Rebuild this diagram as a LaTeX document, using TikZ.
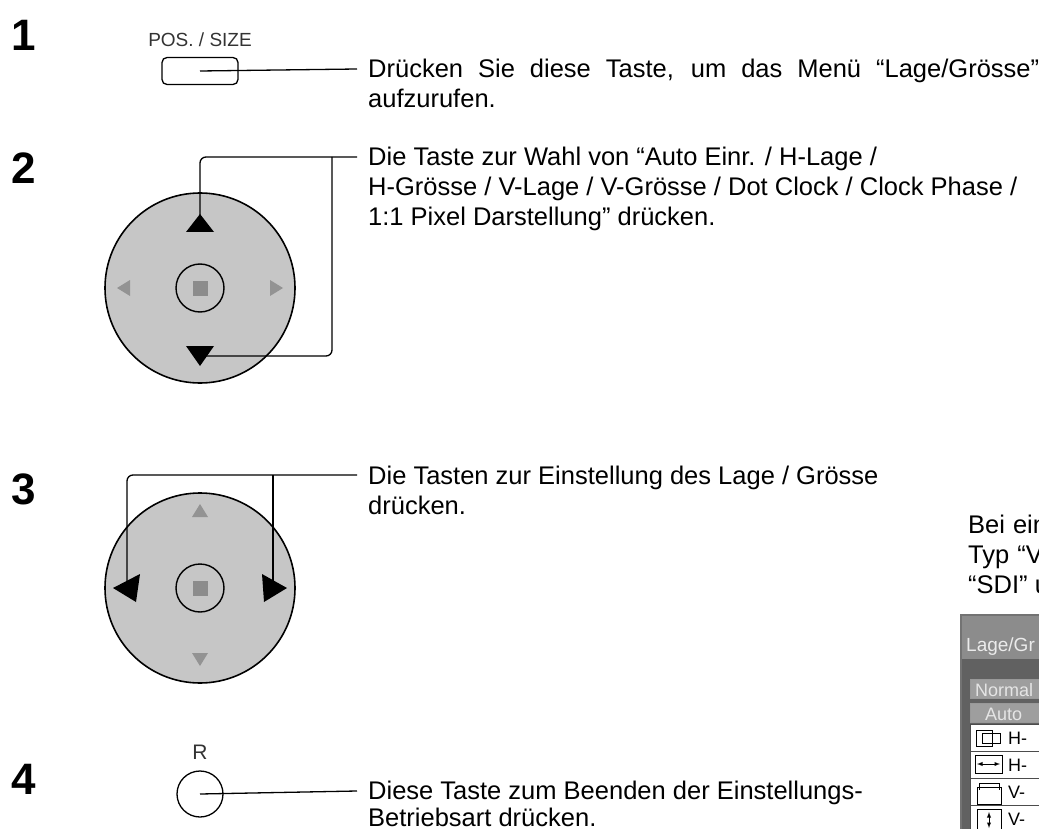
\documentclass[tikz,border=0pt]{standalone}
\usepackage{fontspec}
\setmainfont{Liberation Sans}
\begin{document}
\begin{tikzpicture}[x=1pt,y=-1pt,
  txt/.style={anchor=base west,inner sep=0pt,font=\fontsize{25.5}{30}\selectfont},
  num/.style={anchor=center,inner sep=0pt,font=\fontsize{44}{48}\selectfont\bfseries},
  pad/.style={draw=black,line width=1.6pt,fill=padgray},
  lead/.style={line width=1.3pt,rounded corners=6pt},
  on/.style={fill=black},
  off/.style={fill=gray!85},
  menurow/.style={draw=black!70,fill=white,line width=0.8pt}]
\definecolor{padgray}{RGB}{198,198,198}
\useasboundingbox (0,0) rectangle (1039,829);
\fill[white] (0,0) rectangle (1039,829);
% numbers
\node[num] (n1) at (24,35) {1};
\node[num] (n2) at (24,168) {2};
\node[num] (n3) at (24,489) {3};
\node[num] (n4) at (24,779) {4};
% step 1
\node[inner sep=0pt,font=\fontsize{19}{21}\selectfont,text=black!80] (poslbl) at (200,40) {POS. / SIZE};
\node[draw,line width=1.3pt,rounded corners=5pt,minimum width=76pt,minimum height=27pt] (posbtn) at (200,71) {};
\node[txt] (t1a) at (368,78) {\makebox[671pt][s]{Drücken Sie diese Taste, um das Menü “Lage/Grösse”}};
\node[txt] (t1b) at (368,108) {aufzurufen.};
\coordinate (c1) at (357,69);
\draw[line width=1.3pt] (c1) -- (posbtn.center);
% step 2 pad
\node[pad,circle,minimum size=190pt] (pad2) at (200,288) {};
\node[draw,line width=1.4pt,circle,minimum size=48pt] (ok2) at (pad2.center) {};
\node[fill=gray!90,minimum size=15pt,inner sep=0pt] (sq2) at (ok2.center) {};
\fill[on] (186,232) -- (214,232) -- (200,214) -- cycle;
\fill[on] (186,346) -- (214,346) -- (200,366) -- cycle;
\fill[off] (117,288) -- (130,280) -- (130,296) -- cycle;
\fill[off] (283,288) -- (270,280) -- (270,296) -- cycle;
\coordinate (c2) at (357,157);
\coordinate (up2) at (200,222);
\coordinate (dn2) at (203,356);
\draw[lead] (c2) -- (200,157) -- (up2);
\draw[lead] (332,157) -- (332,356) -- (dn2);
\node[txt] (t2a) at (368,166) {Die Taste zur Wahl von “Auto Einr. / H-Lage /};
\node[txt] (t2b) at (368,196) {H-Grösse / V-Lage / V-Grösse / Dot Clock / Clock Phase /};
\node[txt] (t2c) at (368,226) {1:1 Pixel Darstellung” drücken.};
% step 3 pad
\node[pad,circle,minimum size=190pt] (pad3) at (200,588) {};
\node[draw,line width=1.4pt,circle,minimum size=48pt] (ok3) at (pad3.center) {};
\node[fill=gray!90,minimum size=15pt,inner sep=0pt] (sq3) at (ok3.center) {};
\fill[off] (200,504) -- (192,517) -- (208,517) -- cycle;
\fill[off] (200,666) -- (192,653) -- (208,653) -- cycle;
\fill[on] (113,588) -- (140,574) -- (136,602) -- cycle;
\fill[on] (287,588) -- (262,574) -- (264,602) -- cycle;
\coordinate (c3) at (357,475);
\coordinate (lf3) at (127,586);
\coordinate (rt3) at (273,586);
\draw[lead] (c3) -- (127,475) -- (lf3);
\draw[line width=1.3pt] (273,475) -- (rt3);
\node[txt] (t3a) at (368,484) {Die Tasten zur Einstellung des Lage / Grösse};
\node[txt] (t3b) at (368,514) {drücken.};
% step 4
\node[inner sep=0pt,font=\fontsize{21}{23}\selectfont,text=black!80] (rlbl) at (200,752) {R};
\node[draw,circle,line width=1.3pt,minimum size=46pt] (rbtn) at (200,794) {};
\coordinate (c4) at (357,791);
\draw[line width=1.3pt] (c4) -- (rbtn.center);
\node[txt] (t4a) at (368,799) {Diese Taste zum Beenden der Einstellungs-};
\node[txt] (t4b) at (368,826) {Betriebsart drücken.};
% right side
\node[txt] (r1) at (968,533) {Bei\hspace{8pt}ein};
\node[txt] (r2) at (968,563) {Typ\hspace{8pt}“V};
\node[txt] (r3) at (968,593) {“SDI” u};
% menu
\begin{scope}
\clip (0,0) rectangle (1039,829);
\fill[black!55] (960,614) rectangle (1045,835);
\fill[black!45] (962,616) rectangle (1045,659);
\node[anchor=base west,inner sep=0pt,text=white!92!black,font=\fontsize{19}{21}\selectfont] (mt) at (966,651) {Lage/Gr};
\fill[black!62] (962,659) rectangle (1045,835);
\node[anchor=west,draw=black!40,fill=black!38,minimum width=90pt,minimum height=19pt,inner sep=0pt] (bn) at (970,689) {};
\node[anchor=base west,inner sep=0pt,text=white!90!black,font=\fontsize{18}{20}\selectfont] (bnt) at (975,696) {Normal};
\node[anchor=west,draw=black!40,fill=black!38,minimum width=90pt,minimum height=19pt,inner sep=0pt] (ba) at (970,713) {};
\node[anchor=base west,inner sep=0pt,text=white!90!black,font=\fontsize{18}{20}\selectfont] (bat) at (985,720) {Auto};
\foreach \y/\l [count=\i] in {724/H-,751/H-,778/V-,805/V-,832/1:} {
  \draw[menurow] (970,\y) rectangle (1050,\y+27);
  \node[anchor=west,inner sep=0pt,font=\fontsize{18}{20}\selectfont] (row\i) at (1008,\y+14) {\l};
}
% icons
\draw[line width=0.9pt] (976,730) rectangle (992,746) (982,733) rectangle (1000,743);
\draw[line width=0.9pt] (975,755) rectangle (1002,773);
\draw[line width=0.9pt,<->,>=latex] (977,764) -- (1000,764);
\draw[line width=0.9pt] (977,787) rectangle (1001,804) (979,790) -- (979,783) -- (999,783) -- (999,790);
\draw[line width=0.9pt] (977,809) rectangle (1001,830);
\draw[line width=0.9pt,<->,>=latex] (989,812) -- (989,828);
\end{scope}
\end{tikzpicture}
\end{document}
